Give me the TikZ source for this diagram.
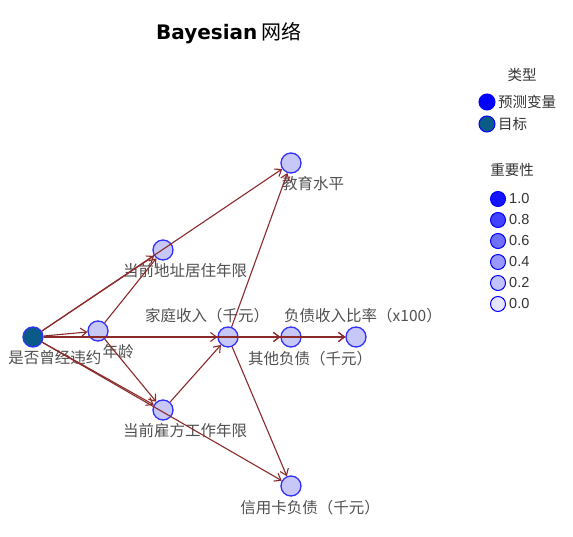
\documentclass[tikz,border=0pt]{standalone}
\usepackage{fontspec}
\setmainfont{Liberation Sans}
\newfontfamily\cjk{Noto Sans CJK SC}
\newfontfamily\titlefont{DejaVu Sans}
\usepackage{tikz}
\usetikzlibrary{positioning,arrows.meta}
\definecolor{edgered}{HTML}{8B2A2A}
\definecolor{nodefill}{HTML}{C8C8F8}
\definecolor{nodeline}{HTML}{3030FF}
\definecolor{targetfill}{HTML}{0B5B88}
\definecolor{lblgray}{HTML}{505050}
\definecolor{keygray}{HTML}{333333}

\begin{document}
\begin{tikzpicture}[
    x=1pt, y=-1pt,
    >={Straight Barb[length=6pt,width=9pt]},
    every node/.style={font=\cjk\fontsize{15.5}{17}\selectfont},
    var/.style={circle, draw=nodeline, line width=1.3pt, fill=nodefill, minimum size=20pt, inner sep=0pt},
    target/.style={var, fill=targetfill},
    lbl/.style={text=lblgray, inner sep=1pt},
    link/.style={->, draw=edgered, line width=1.1pt},
    keydot/.style={circle, draw=blue, line width=1pt, minimum size=15pt, inner sep=0pt},
    keytext/.style={text=keygray, inner sep=1pt, font=\cjk\fontsize{14.5}{16}\selectfont},
    label distance=2pt
]
\useasboundingbox (0,0) rectangle (573,537);

\node[font=\cjk\fontsize{20}{22}\selectfont] (title) at (229,33) {{\titlefont\bfseries Bayesian} 网络};

% network
\node[target, label={[lbl,xshift=22pt]below:是否曾经违约}] (default) at (33,337) {};
\node[var, label={[lbl,xshift=20pt]below:年龄}] (age) at (98,331) {};
\node[var, label={[lbl,xshift=22pt]below:当前地址居住年限}] (address) at (163,250) {};
\node[var, label={[lbl,xshift=22pt]below:教育水平}] (edu) at (291,163) {};
\node[var, label={[lbl,xshift=-21pt]above:家庭收入（千元）}] (income) at (228,337) {};
\node[var, label={[lbl,xshift=19pt]below:其他负债（千元）}] (othdebt) at (291,337) {};
\node[var, label={[lbl,xshift=7pt]above:负债收入比率（x100）}] (debtinc) at (356,337) {};
\node[var, label={[lbl,xshift=22pt]below:当前雇方工作年限}] (employ) at (163,410) {};
\node[var, label={[lbl,xshift=19pt]below:信用卡负债（千元）}] (creddebt) at (291,486) {};

\foreach \n in {age,address,edu,income,othdebt,debtinc,employ,creddebt}
    \draw[link] (default) -- (\n);
\draw[link] (age) -- (address);
\draw[link] (age) -- (employ);
\draw[link] (employ) -- (income);
\draw[link] (income) -- (edu);
\draw[link] (income) -- (othdebt);
\draw[link] (othdebt) -- (debtinc);
\draw[link] (income) -- (creddebt);

% legend
\node[keytext] (typetitle) at (522,75) {类型};
\node[keydot, minimum size=16pt, fill=blue] (predkey) at (487,102) {};
\node[keytext, right=1.5pt of predkey] (predtxt) {预测变量};
\node[keydot, minimum size=16pt, fill=targetfill] (targetkey) at (487,124) {};
\node[keytext, right=1.5pt of targetkey] (targettxt) {目标};

\node[keytext] (imptitle) at (512,170) {重要性};
\foreach \v/\p [count=\i] in {1.0/92,0.8/74,0.6/56,0.4/40,0.2/24,0.0/10} {
    \node[keydot, fill=blue!\p!white] (imp\i) at (498,{199+21*(\i-1)}) {};
    \node[keytext, font=\fontsize{14.5}{16}\selectfont, right=2pt of imp\i] (impv\i) {\v};
}
\end{tikzpicture}
\end{document}
